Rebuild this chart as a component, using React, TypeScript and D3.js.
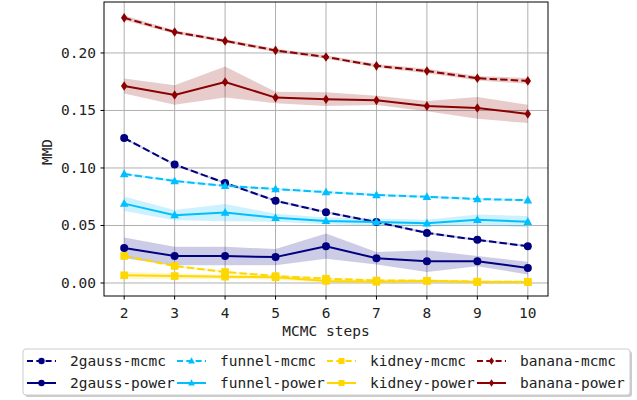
import * as d3 from 'd3';
import React from 'react';

// MCMC steps on the x axis
const steps = [2, 3, 4, 5, 6, 7, 8, 9, 10];
const yTicks = [0.0, 0.05, 0.1, 0.15, 0.2];

// mean values
const gaussMcmc = [0.126, 0.103, 0.087, 0.0715, 0.0615, 0.053, 0.0435, 0.0375, 0.032];
const gaussPower = [0.0305, 0.0235, 0.0235, 0.0225, 0.032, 0.0215, 0.019, 0.019, 0.013];
const funnelMcmc = [0.0948, 0.0887, 0.0845, 0.0817, 0.079, 0.0765, 0.075, 0.073, 0.072];
const funnelPower = [0.069, 0.059, 0.0612, 0.0567, 0.054, 0.053, 0.052, 0.055, 0.0533];
const kidneyMcmc = [0.0235, 0.0148, 0.0096, 0.006, 0.0038, 0.0022, 0.002, 0.0012, 0.001];
const kidneyPower = [0.0067, 0.006, 0.0055, 0.005, 0.0018, 0.001, 0.0018, 0.0008, 0.0008];
const bananaMcmc = [0.2305, 0.2182, 0.2105, 0.2022, 0.1965, 0.1888, 0.1843, 0.178, 0.1757];
const bananaPower = [0.1713, 0.1635, 0.1748, 0.1612, 0.1598, 0.1588, 0.1538, 0.1522, 0.147];

// band half-widths (std) for each series
const gaussMcmcStd = [0.001, 0.001, 0.001, 0.001, 0.001, 0.001, 0.001, 0.001, 0.001];
const gaussPowerStd = [0.009, 0.008, 0.008, 0.007, 0.011, 0.0055, 0.0095, 0.0045, 0.0055];
const funnelMcmcStd = [0.001, 0.001, 0.001, 0.001, 0.001, 0.001, 0.001, 0.001, 0.001];
const funnelPowerStd = [0.0063, 0.0045, 0.0075, 0.0035, 0.003, 0.003, 0.003, 0.0045, 0.005];
const kidneyMcmcStd = [0.001, 0.001, 0.001, 0.001, 0.001, 0.001, 0.001, 0.001, 0.001];
const kidneyPowerStd = [0.003, 0.0025, 0.002, 0.002, 0.0015, 0.001, 0.001, 0.001, 0.001];
const bananaMcmcStd = [0.002, 0.0015, 0.0015, 0.0015, 0.0015, 0.0015, 0.002, 0.002, 0.0025];
const bananaPowerStd = [0.0065, 0.0085, 0.0135, 0.005, 0.006, 0.004, 0.0045, 0.0095, 0.008];

const series = [
  { name: '2gauss-mcmc', values: gaussMcmc, std: gaussMcmcStd, color: '#000080', dashed: true, marker: 'circle' },
  { name: 'funnel-mcmc', values: funnelMcmc, std: funnelMcmcStd, color: '#00BFFF', dashed: true, marker: 'triangle' },
  { name: 'kidney-mcmc', values: kidneyMcmc, std: kidneyMcmcStd, color: '#FFD700', dashed: true, marker: 'square' },
  { name: 'banana-mcmc', values: bananaMcmc, std: bananaMcmcStd, color: '#8B0000', dashed: true, marker: 'diamond' },
  { name: '2gauss-power', values: gaussPower, std: gaussPowerStd, color: '#000080', dashed: false, marker: 'circle' },
  { name: 'funnel-power', values: funnelPower, std: funnelPowerStd, color: '#00BFFF', dashed: false, marker: 'triangle' },
  { name: 'kidney-power', values: kidneyPower, std: kidneyPowerStd, color: '#FFD700', dashed: false, marker: 'square' },
  { name: 'banana-power', values: bananaPower, std: bananaPowerStd, color: '#8B0000', dashed: false, marker: 'diamond' },
];

const font = "'DejaVu Sans Mono', monospace";
const dash = '7.4,3.2';

function Marker({ kind, x, y, color, s = 1 }: { kind: string; x: number; y: number; color: string; s?: number }) {
  if (kind === 'circle') return <circle cx={x} cy={y} r={4 * s} fill={color} />;
  if (kind === 'square') return <rect x={x - 3.8 * s} y={y - 3.8 * s} width={7.6 * s} height={7.6 * s} fill={color} />;
  if (kind === 'triangle')
    return <path d={`M${x},${y - 4.6 * s} L${x + 4.3 * s},${y + 3.2 * s} L${x - 4.3 * s},${y + 3.2 * s} Z`} fill={color} />;
  return <path d={`M${x},${y - 4.8 * s} L${x + 3.2 * s},${y} L${x},${y + 4.8 * s} L${x - 3.2 * s},${y} Z`} fill={color} />;
}

const App = () => {
  const width = 637, height = 400;
  const left = 104, right = 548, top = 2, bottom = 296;

  const x = d3.scaleLinear().domain([1.6, 10.4]).range([left, right]);
  const y = d3.scaleLinear().domain([-0.0113, 0.2443]).range([bottom, top]);

  const line = d3.line<number>().x((d, i) => x(steps[i])).y(d => y(d));

  // legend layout: 4 columns, 2 rows
  const legCols = [27, 177, 327, 477];
  const legRows = [361, 383];

  return (
    <svg width={width} height={height} style={{ position: 'absolute', left: 0, top: 0 }}>
      <rect width={width} height={height} fill="white" />
      <defs>
        <clipPath id="plot">
          <rect x={left} y={top} width={right - left} height={bottom - top} />
        </clipPath>
      </defs>

      {/* grid */}
      {steps.map(s => (
        <line key={'gx' + s} x1={x(s)} x2={x(s)} y1={top} y2={bottom} stroke="#b0b0b0" strokeWidth={1} />
      ))}
      {yTicks.map(t => (
        <line key={'gy' + t} x1={left} x2={right} y1={y(t)} y2={y(t)} stroke="#b0b0b0" strokeWidth={1} />
      ))}

      <g clipPath="url(#plot)">
        {series.map(s => {
          const area = d3.area<number>()
            .x((d, i) => x(steps[i]))
            .y0((d, i) => y(d - s.std[i]))
            .y1((d, i) => y(d + s.std[i]));
          return <path key={'a' + s.name} d={area(s.values) || ''} fill={s.color} fillOpacity={0.2} />;
        })}
        {series.map(s => (
          <g key={'l' + s.name}>
            <path d={line(s.values) || ''} fill="none" stroke={s.color} strokeWidth={2}
              strokeDasharray={s.dashed ? dash : undefined} />
            {s.values.map((v, i) => (
              <Marker key={i} kind={s.marker} x={x(steps[i])} y={y(v)} color={s.color} />
            ))}
          </g>
        ))}
      </g>

      {/* axes frame */}
      <rect x={left} y={top} width={right - left} height={bottom - top} fill="none" stroke="black" strokeWidth={1} />

      {/* x ticks */}
      {steps.map(s => (
        <g key={'tx' + s}>
          <line x1={x(s)} x2={x(s)} y1={bottom} y2={bottom + 3.5} stroke="black" strokeWidth={1} />
          <text x={x(s)} y={318} textAnchor="middle" fontFamily={font} fontSize={14.5} fill="#222">{s}</text>
        </g>
      ))}
      {/* y ticks */}
      {yTicks.map(t => (
        <g key={'ty' + t}>
          <line x1={left - 3.5} x2={left} y1={y(t)} y2={y(t)} stroke="black" strokeWidth={1} />
          <text x={96} y={y(t) + 5} textAnchor="end" fontFamily={font} fontSize={14.5} fill="#222">{t.toFixed(2)}</text>
        </g>
      ))}

      <text x={(left + right) / 2} y={336} textAnchor="middle" fontFamily={font} fontSize={14.5} fill="#222">MCMC steps</text>
      <text transform="translate(52,152) rotate(-90)" textAnchor="middle" fontFamily={font} fontSize={14.5} fill="#222">MMD</text>

      {/* legend */}
      <rect x={25} y={351} width={607} height={46} rx={3} fill="#999" opacity={0.5} />
      <rect x={23} y={349} width={607} height={46} rx={3} fill="white" stroke="#ccc" strokeWidth={1} />
      {series.map((s, k) => {
        const col = k % 4, row = Math.floor(k / 4);
        const lx = legCols[col], ly = legRows[row];
        return (
          <g key={'lg' + s.name}>
            <line x1={lx} x2={lx + 29} y1={ly} y2={ly} stroke={s.color} strokeWidth={2}
              strokeDasharray={s.dashed ? '6,3.3' : undefined} />
            <Marker kind={s.marker} x={lx + 14.5} y={ly} color={s.color} s={0.8} />
            <text x={lx + 43} y={ly + 5} fontFamily={font} fontSize={14.5} fill="#222">{s.name}</text>
          </g>
        );
      })}
    </svg>
  );
};

export default App;
